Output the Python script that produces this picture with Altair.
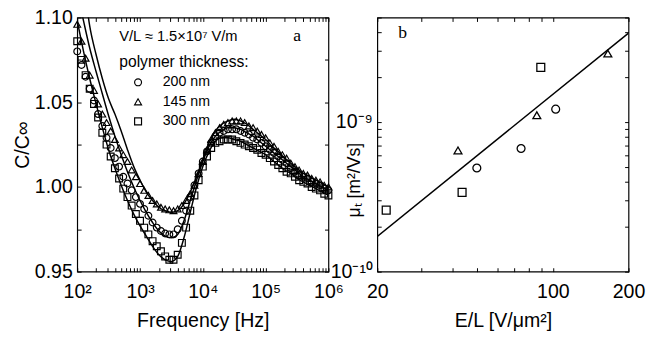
import altair as alt
import pandas as pd

# ---------------- panel a data (markers, 15 per decade) ----------------
freq = [100, 117, 136, 158, 185, 215, 251, 293, 341, 398, 464, 541, 631, 736, 858,
        1000, 1166, 1359, 1585, 1848, 2154, 2512, 2929, 3415, 3981, 4642, 5412, 6310, 7356, 8577,
        10000, 11659, 13594, 15849, 18478, 21544, 25119, 29286, 34146, 39811, 46416, 54117,
        63096, 73564, 85770,
        100000, 116591, 135936, 158489, 184785, 215443, 251189, 292864, 341455, 398107,
        464159, 541170, 630957, 735642, 857696,
        1000000]

c145 = [1.096, 1.086, 1.076, 1.066, 1.057, 1.049, 1.043, 1.038, 1.033, 1.028,
        1.023, 1.019, 1.015, 1.010, 1.006,
        1.002, 0.998, 0.995, 0.992, 0.990, 0.988, 0.987, 0.9865, 0.986, 0.987,
        0.989, 0.992, 0.996, 1.001, 1.008,
        1.015, 1.022, 1.028, 1.032, 1.035, 1.037, 1.038, 1.039, 1.039, 1.039,
        1.038, 1.036, 1.035, 1.033, 1.031,
        1.029, 1.026, 1.024, 1.021, 1.019, 1.017, 1.014, 1.012, 1.010, 1.008,
        1.007, 1.005, 1.004, 1.003, 1.001,
        1.000]
c200 = [1.080, 1.072, 1.065, 1.058, 1.051, 1.043, 1.036, 1.029, 1.023, 1.017,
        1.012, 1.006, 1.002, 0.998, 0.994,
        0.990, 0.987, 0.983, 0.979, 0.976, 0.974, 0.9725, 0.972, 0.972, 0.975,
        0.980, 0.986, 0.994, 1.001, 1.008,
        1.015, 1.021, 1.026, 1.030, 1.032, 1.033, 1.034, 1.034, 1.034, 1.033,
        1.032, 1.031, 1.029, 1.028, 1.026,
        1.024, 1.022, 1.020, 1.018, 1.016, 1.014, 1.011, 1.009, 1.007, 1.006,
        1.005, 1.003, 1.002, 1.001, 0.999,
        0.998]
c300 = [1.086, 1.075, 1.066, 1.058, 1.049, 1.041, 1.032, 1.025, 1.018, 1.011,
        1.005, 0.999, 0.994, 0.989, 0.984,
        0.980, 0.976, 0.972, 0.968, 0.965, 0.962, 0.959, 0.957, 0.957, 0.960,
        0.967, 0.976, 0.986, 0.995, 1.004,
        1.012, 1.018, 1.023, 1.026, 1.027, 1.028, 1.028, 1.028, 1.027, 1.026,
        1.025, 1.024, 1.023, 1.022, 1.020,
        1.019, 1.017, 1.015, 1.013, 1.011, 1.009, 1.008, 1.006, 1.004, 1.003,
        1.002, 1.000, 0.999, 0.998, 0.996,
        0.995]

# ---------------- panel a data (fit curves, 10 per decade) ----------------
fit_freq = [100, 126, 158, 200, 251, 316, 398, 501, 631, 794,
            1000, 1259, 1585, 1995, 2512, 3162, 3981, 5012, 6310, 7943,
            10000, 12589, 15849, 19953, 25119, 31623, 39811, 50119, 63096, 79433,
            100000, 125893, 158489, 199526, 251189, 316228, 398107, 501187, 630957, 794328,
            1000000]
fit145 = [1.150, 1.122, 1.095, 1.078, 1.064, 1.052, 1.043, 1.033, 1.022, 1.012,
          1.004, 0.997, 0.992, 0.988, 0.986, 0.985, 0.986, 0.990, 0.997, 1.006,
          1.016, 1.026, 1.033, 1.037, 1.039, 1.040, 1.039, 1.037, 1.034, 1.031,
          1.028, 1.024, 1.021, 1.017, 1.014, 1.011, 1.008, 1.006, 1.004, 1.002,
          1.000]
fit200 = [1.115, 1.098, 1.082, 1.068, 1.055, 1.042, 1.030, 1.019, 1.009, 1.000,
          0.992, 0.985, 0.979, 0.974, 0.971, 0.970, 0.972, 0.980, 0.992, 1.004,
          1.015, 1.024, 1.030, 1.033, 1.035, 1.035, 1.034, 1.032, 1.030, 1.027,
          1.024, 1.021, 1.018, 1.015, 1.012, 1.009, 1.006, 1.004, 1.002, 1.000,
          0.998]
fit300 = [1.098, 1.080, 1.064, 1.049, 1.035, 1.022, 1.011, 1.001, 0.992, 0.984,
          0.977, 0.971, 0.965, 0.960, 0.957, 0.956, 0.959, 0.970, 0.985, 1.000,
          1.012, 1.021, 1.027, 1.029, 1.029, 1.028, 1.027, 1.025, 1.023, 1.021,
          1.019, 1.016, 1.013, 1.010, 1.008, 1.005, 1.003, 1.001, 0.999, 0.997,
          0.995]

series_names = ["200 nm", "145 nm", "300 nm"]
series_shapes = ["circle", "triangle-up", "square"]

# ---------------- panel b data ----------------
mu_E = [165.5, 86.3, 41.9, 89.5, 43.5, 21.7, 102.6, 74.7, 49.8]
mu_val = [2.87e-9, 1.11e-9, 6.46e-10, 2.32e-9, 3.39e-10, 2.58e-10, 1.22e-9, 6.66e-10, 4.93e-10]
mu_series = ["145 nm", "145 nm", "145 nm", "300 nm", "300 nm", "300 nm", "200 nm", "200 nm", "200 nm"]
line_E = [20, 200]
line_mu = [1.72e-10, 3.93e-9]

# annotation texts
note_field = ["V/L ≈ 1.5×10⁷ V/m"]
label_a = ["a"]
label_b = ["b"]

# tick values
xticks_a = [100, 200, 300, 400, 500, 600, 700, 800, 900,
            1000, 2000, 3000, 4000, 5000, 6000, 7000, 8000, 9000,
            10000, 20000, 30000, 40000, 50000, 60000, 70000, 80000, 90000,
            100000, 200000, 300000, 400000, 500000, 600000, 700000, 800000, 900000,
            1000000]
yticks_a = [0.95, 0.975, 1.0, 1.025, 1.05, 1.075, 1.10]
xticks_b = [20, 30, 40, 50, 60, 70, 80, 90, 100, 200]
yticks_b = [1e-10, 2e-10, 3e-10, 4e-10, 5e-10, 6e-10, 7e-10, 8e-10, 9e-10,
            1e-9, 2e-9, 3e-9, 4e-9, 5e-9]

# ---------------- tables ----------------
n = len(freq)
pts_a = pd.DataFrame({
    "f": freq * 3,
    "c": c200 + c145 + c300,
    "s": ["200 nm"] * n + ["145 nm"] * n + ["300 nm"] * n,
})
m = len(fit_freq)
fit_a = pd.DataFrame({
    "f": fit_freq * 3,
    "c": fit200 + fit145 + fit300,
    "s": ["200 nm"] * m + ["145 nm"] * m + ["300 nm"] * m,
})
pts_b = pd.DataFrame({"E": mu_E, "mu": mu_val, "s": mu_series})
line_b = pd.DataFrame({"E": line_E, "mu": line_mu})

FONT = "Liberation Sans"
TS = 4  # tick length
FS = 20

shape_scale = alt.Scale(domain=series_names, range=series_shapes)
xs_a = alt.Scale(type="log", domain=[100, 1e6])
ys_a = alt.Scale(domain=[0.95, 1.10])
xs_b = alt.Scale(type="log", domain=[20, 200])
ys_b = alt.Scale(type="log", domain=[1e-10, 5e-9])


def ax(orient, values, title=None, labels=True, label_expr=None, **kw):
    args = dict(orient=orient, values=values, tickSize=TS, offset=-TS, domain=False,
                grid=False, labels=labels, tickColor="black", tickWidth=1,
                labelFont=FONT, labelFontSize=FS, labelColor="black",
                titleFont=FONT, titleFontSize=FS, titleFontWeight="normal",
                titleColor="black", labelOverlap=False, labelFlush=False)
    args["title"] = title
    if label_expr is not None:
        args["labelExpr"] = label_expr
    args.update(kw)
    return alt.Axis(**args)


xa_expr = ("datum.value == 100 ? '10²' : datum.value == 1000 ? '10³' : "
           "datum.value == 10000 ? '10⁴' : datum.value == 100000 ? '10⁵' : "
           "datum.value == 1000000 ? '10⁶' : ''")
ya_expr = "(round(datum.value * 1000) % 50 == 0) ? format(datum.value, '.2f') : ''"
xb_expr = "(datum.value == 20 || datum.value == 100 || datum.value == 200) ? format(datum.value, 'd') : ''"
yb_expr = ("abs(datum.value - 1e-10) < 1e-13 ? '10⁻¹⁰' : "
           "abs(datum.value - 1e-9) < 1e-12 ? '10⁻⁹' : ''")

# ---------------- panel a ----------------
lines_a = alt.Chart(fit_a).mark_line(color="black", strokeWidth=1.5, clip=True,
                                      interpolate="monotone").encode(
    x=alt.X("f:Q", scale=xs_a, axis=ax("top", xticks_a, labels=False)),
    y=alt.Y("c:Q", scale=ys_a, axis=ax("right", yticks_a, labels=False)),
    detail="s:N",
)
points_a = alt.Chart(pts_a).mark_point(filled=False, color="black", size=48,
                                       strokeWidth=1.2, opacity=1).encode(
    x=alt.X("f:Q", scale=xs_a,
            axis=ax("bottom", xticks_a, title="Frequency [Hz]", label_expr=xa_expr,
                    labelPadding=10, titlePadding=10)),
    y=alt.Y("c:Q", scale=ys_a,
            axis=ax("left", yticks_a, title="C/C∞", label_expr=ya_expr,
                    labelPadding=5, titlePadding=2)),
    shape=alt.Shape("s:N", scale=shape_scale,
                    legend=alt.Legend(title="polymer thickness:", orient="none",
                                      legendX=43, legendY=38,
                                      titleFont=FONT, titleFontSize=16,
                                      titleFontWeight="normal", titleColor="black",
                                      labelFont=FONT, labelFontSize=14.5,
                                      labelColor="black", symbolOffset=12,
                                      labelOffset=18, rowPadding=5,
                                      titlePadding=5, symbolSize=50,
                                      symbolStrokeColor="black",
                                      symbolStrokeWidth=1.2)),
)
txt_a1 = alt.Chart(pd.DataFrame({"t": note_field})).mark_text(
    font=FONT, fontSize=15, align="left", baseline="middle", color="black").encode(
    text="t:N", x=alt.value(43), y=alt.value(19))
txt_a2 = alt.Chart(pd.DataFrame({"t": label_a})).mark_text(
    font="Liberation Serif", fontSize=18, align="center", baseline="middle",
    color="black").encode(text="t:N", x=alt.value(225), y=alt.value(19))

panel_a = alt.layer(lines_a, points_a, txt_a1, txt_a2).properties(width=257, height=260)

# ---------------- panel b ----------------
line_bc = alt.Chart(line_b).mark_line(color="black", strokeWidth=1.5, clip=True).encode(
    x=alt.X("E:Q", scale=xs_b, axis=ax("top", xticks_b, labels=False)),
    y=alt.Y("mu:Q", scale=ys_b, axis=ax("right", yticks_b, labels=False)),
)
points_b = alt.Chart(pts_b).mark_point(filled=False, color="black", size=65,
                                       strokeWidth=1.3, opacity=1).encode(
    x=alt.X("E:Q", scale=xs_b,
            axis=ax("bottom", xticks_b, title="E/L [V/μm²]", label_expr=xb_expr,
                    labelPadding=10, titlePadding=10)),
    y=alt.Y("mu:Q", scale=ys_b,
            axis=ax("left", yticks_b, title="μₜ [m²/Vs]", label_expr=yb_expr,
                    labelPadding=5, titleX=-27, titleY=166, titleAngle=270,
                    titleFontSize=18, titleAlign="center", titleBaseline="middle")),
    shape=alt.Shape("s:N", scale=shape_scale, legend=None),
)
txt_b = alt.Chart(pd.DataFrame({"t": label_b})).mark_text(
    font="Liberation Serif", fontSize=18, align="center", baseline="middle",
    color="black").encode(text="t:N", x=alt.value(26), y=alt.value(16))

panel_b = alt.layer(line_bc, points_b, txt_b).properties(width=257, height=260)

chart = alt.hconcat(panel_a, panel_b, spacing=50, bounds="flush").resolve_legend(
    shape="independent"
).resolve_scale(shape="independent").properties(
    padding={"left": 12, "top": 3, "right": 5, "bottom": 5},
    background="white",
).configure_view(stroke="black", strokeWidth=1.2)

chart.save("out.html", embed_options={"renderer": "svg", "actions": False})
